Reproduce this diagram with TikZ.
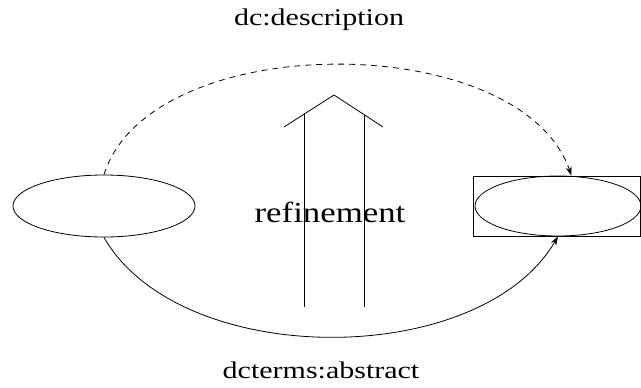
\documentclass[tikz,border=0pt]{standalone}
\usepackage{fontspec}
\setmainfont{Liberation Serif}
\usetikzlibrary{shapes.geometric,arrows.meta}
\begin{document}
\begin{tikzpicture}[x=1pt,y=-1pt,
  every path/.style={line width=0.8pt},
  ell/.style={draw,ellipse,inner sep=0pt},
  lbl/.style={font=\fontsize{24}{28}\selectfont,inner sep=0pt},
  tip/.style={-{Stealth[length=9pt,width=6pt]}}]
\useasboundingbox (0,0) rectangle (641,388);
\node[ell,minimum width=182pt,minimum height=62pt] (L) at (104,206) {};
\node[draw,rectangle,minimum width=167pt,minimum height=60pt,inner sep=0pt] (B) at (556.5,206) {};
\node[ell,minimum width=166pt,minimum height=60pt] (R) at (558,206) {};
\node[lbl] (top) at (319,20) {\scalebox{1.25}[1]{dc:description}};
\node[lbl,font=\fontsize{29}{33}\selectfont] (mid) at (330,212) {\scalebox{1.2}[1]{refinement}};
\node[lbl] (bot) at (321,370) {\scalebox{1.25}[1]{dcterms:abstract}};
\draw[dashed,dash pattern=on 6pt off 5pt,tip] (L.north) .. controls (150,28) and (520,28) .. ([xshift=15pt]B.north);
\draw[tip] (L.south) .. controls (180,370) and (480,370) .. (R.south);
\coordinate (a1) at (304,307);
\coordinate (a2) at (304,113);
\coordinate (b1) at (364,307);
\coordinate (b2) at (364,115);
\coordinate (h1) at (284,127);
\coordinate (h2) at (334,95);
\coordinate (h3) at (383,127);
\draw (a1) -- (a2);
\draw (b1) -- (b2);
\draw (h1) -- (h2) -- (h3);
\end{tikzpicture}
\end{document}
